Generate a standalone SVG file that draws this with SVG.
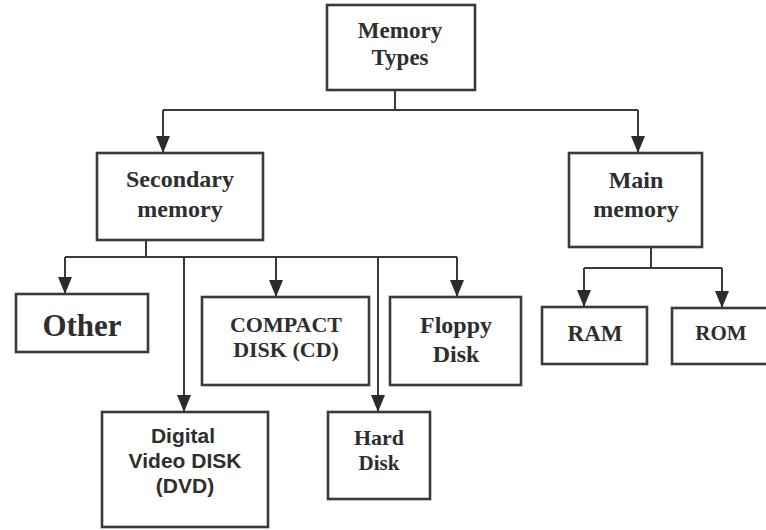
<svg xmlns="http://www.w3.org/2000/svg" width="766" height="530" viewBox="0 0 766 530">
<defs>
<marker id="arr" markerUnits="userSpaceOnUse" markerWidth="18" markerHeight="14" viewBox="0 0 18 14" refX="17" refY="7" orient="auto">
<path d="M0,0 L17,7 L0,14 Z" fill="#2b2b2b"/>
</marker>
</defs>
<style>
.box{fill:#ffffff;stroke:#3a3a3a;stroke-width:2.6}
.t{font-family:"Liberation Serif","Times New Roman","DejaVu Serif",serif;font-weight:bold;fill:#2e2e2e;text-anchor:middle}
.s{font-family:"Liberation Sans",Arial,sans-serif;font-weight:bold;fill:#2e2e2e;text-anchor:middle}
.ln{fill:none;stroke:#3a3a3a;stroke-width:2}
</style>
<rect width="766" height="530" fill="#ffffff"/>
<g id="connectors">
<path class="ln" d="M395,90 V110 M163,110 H638"/>
<path class="ln" d="M163,110 V153" marker-end="url(#arr)"/>
<path class="ln" d="M638,110 V153" marker-end="url(#arr)"/>
<path class="ln" d="M146,240 V257 M65,257 H457"/>
<path class="ln" d="M65,257 V294" marker-end="url(#arr)"/>
<path class="ln" d="M184,257 V412" marker-end="url(#arr)"/>
<path class="ln" d="M276,257 V297" marker-end="url(#arr)"/>
<path class="ln" d="M378,257 V412" marker-end="url(#arr)"/>
<path class="ln" d="M457,257 V297" marker-end="url(#arr)"/>
<path class="ln" d="M651,247 V268 M584,268 H722"/>
<path class="ln" d="M584,268 V307" marker-end="url(#arr)"/>
<path class="ln" d="M722,268 V308" marker-end="url(#arr)"/>
</g>
<g id="memory-types">
<rect class="box" x="327" y="5" width="148" height="85"/>
<text class="t" font-family="Liberation Serif, serif" x="400" y="38" font-size="23">Memory</text>
<text class="t" font-family="Liberation Serif, serif" x="400" y="65" font-size="23">Types</text>
</g>
<g id="secondary-memory">
<rect class="box" x="97" y="153" width="166" height="87"/>
<text class="t" font-family="Liberation Serif, serif" x="180" y="187" font-size="24">Secondary</text>
<text class="t" font-family="Liberation Serif, serif" x="180" y="217" font-size="24">memory</text>
</g>
<g id="main-memory">
<rect class="box" x="569" y="153" width="133" height="94"/>
<text class="t" font-family="Liberation Serif, serif" x="636" y="188" font-size="24">Main</text>
<text class="t" font-family="Liberation Serif, serif" x="636" y="217" font-size="24">memory</text>
</g>
<g id="other">
<rect class="box" x="16" y="294" width="132" height="58"/>
<text class="t" font-family="Liberation Serif, serif" x="82" y="336" font-size="31">Other</text>
</g>
<g id="compact-disk">
<rect class="box" x="202" y="297" width="167" height="88"/>
<text class="t" font-family="Liberation Serif, serif" x="286" y="332" font-size="22">COMPACT</text>
<text class="t" font-family="Liberation Serif, serif" x="286" y="357" font-size="22">DISK (CD)</text>
</g>
<g id="floppy-disk">
<rect class="box" x="390" y="297" width="131" height="88"/>
<text class="t" font-family="Liberation Serif, serif" x="456" y="333" font-size="24">Floppy</text>
<text class="t" font-family="Liberation Serif, serif" x="456" y="362" font-size="24">Disk</text>
</g>
<g id="ram">
<rect class="box" x="542" y="307" width="105" height="57"/>
<text class="t" font-family="Liberation Serif, serif" x="595" y="341" font-size="23">RAM</text>
</g>
<g id="rom">
<rect class="box" x="672" y="308" width="96" height="56"/>
<text class="t" font-family="Liberation Serif, serif" x="721" y="340" font-size="21">ROM</text>
</g>
<g id="dvd">
<rect class="box" x="102" y="412" width="166" height="115"/>
<text class="s" x="183" y="443" font-size="21">Digital</text>
<text class="s" x="185" y="468" font-size="21">Video DISK</text>
<text class="s" x="185" y="493" font-size="21">(DVD)</text>
</g>
<g id="hard-disk">
<rect class="box" x="328" y="412" width="102" height="87"/>
<text class="t" font-family="Liberation Serif, serif" x="379" y="445" font-size="22">Hard</text>
<text class="t" font-family="Liberation Serif, serif" x="379" y="470" font-size="21">Disk</text>
</g>
</svg>
